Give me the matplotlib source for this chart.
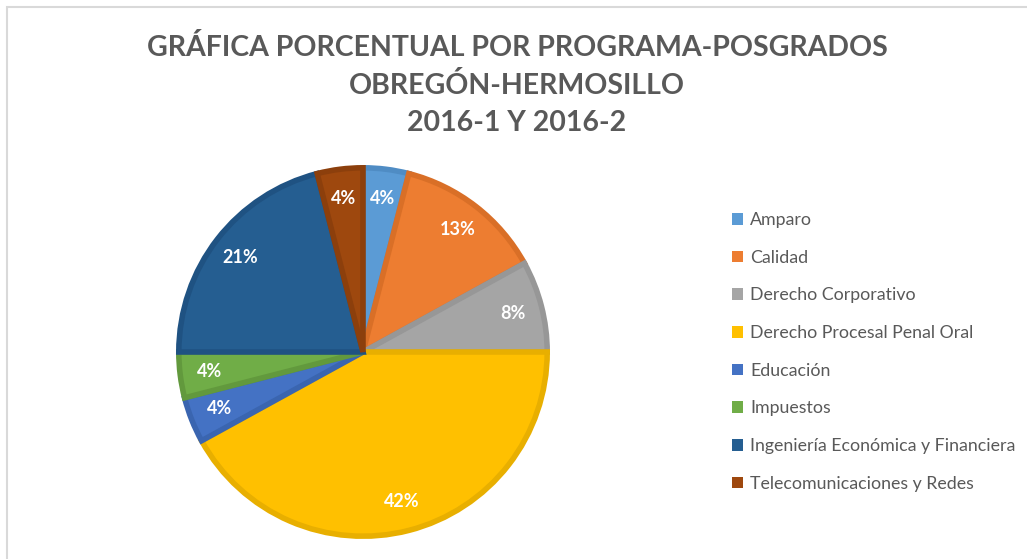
import matplotlib
matplotlib.use("Agg")
import matplotlib.pyplot as plt
from matplotlib.patches import Patch, Rectangle

plt.rcParams["font.family"] = ["Lato", "DejaVu Sans"]

programas = ["Amparo", "Calidad", "Derecho Corporativo", "Derecho Procesal Penal Oral",
             "Educación", "Impuestos", "Ingeniería Económica y Financiera",
             "Telecomunicaciones y Redes"]
porcentajes = [4, 13, 8, 42, 4, 4, 21, 4]
colores = ["#5B9BD5", "#ED7D31", "#A5A5A5", "#FFC000",
           "#4472C4", "#70AD47", "#255E91", "#9E480E"]
bordes = ["#4F8CC4", "#D96F27", "#979797", "#E8AF00",
          "#3A65B0", "#62993D", "#1F5282", "#8C3F0C"]
titulo = "GRÁFICA PORCENTUAL POR PROGRAMA-POSGRADOS\nOBREGÓN-HERMOSILLO\n2016-1 Y 2016-2"

TEXT = "#595959"
W, H = 1027, 559
fig = plt.figure(figsize=(W / 100, H / 100), dpi=100, facecolor="white")

# thin chart-area frame (Excel style)
fig.patches.append(Rectangle((7 / W, -0.05), 1.2, (H - 7) / H + 0.05,
                             transform=fig.transFigure, fill=False,
                             edgecolor="#D9D9D9", linewidth=1.5))

cx, cy, r = 363, 352, 187
ax = fig.add_axes([(cx - r) / W, (H - cy - r) / H, 2 * r / W, 2 * r / H])
wedges, _, autotexts = ax.pie(
    porcentajes, colors=colores, startangle=90, counterclock=False,
    radius=0.985, autopct=lambda v: f"{v:.0f}%", pctdistance=0.84,
    wedgeprops=dict(linewidth=4),
    textprops=dict(color="white", fontsize=13, fontweight="bold"))
for w, b in zip(wedges, bordes):
    w.set_edgecolor(b)
    w.set_joinstyle("miter")
ax.set_xlim(-1, 1)
ax.set_ylim(-1, 1)
ax.set_aspect("equal")
ax.axis("off")

fig.text(517 / W, 1 - 85 / H, titulo, ha="center", va="center", fontsize=20.5,
         fontweight="bold", color=TEXT, linespacing=1.5)

handles = [Patch(facecolor=c, edgecolor="none") for c in colores]
leg = fig.legend(handles, programas, loc="upper left",
                 bbox_to_anchor=(716 / W, 1 - 196 / H), frameon=False,
                 fontsize=12.8, handlelength=0.62, handleheight=0.62,
                 handletextpad=0.4, labelspacing=1.22)
for t in leg.get_texts():
    t.set_color(TEXT)

fig.savefig("out.png", dpi=100, facecolor="white")
